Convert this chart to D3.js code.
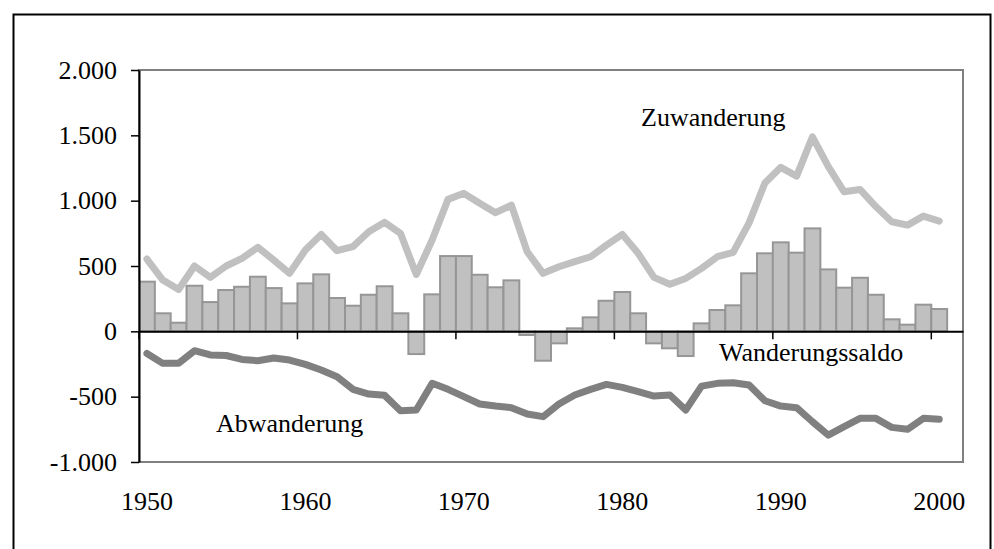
<!DOCTYPE html>
<html>
<head>
<meta charset="utf-8">
<script src="https://cdn.jsdelivr.net/npm/d3@7/dist/d3.min.js"></script>
<style>
  body { margin: 0; background: #fff; }
  text { font-family: "Liberation Serif", "Times New Roman", serif; fill: #000; }
</style>
</head>
<body>
<svg id="chart"></svg>
<script>
"use strict";

var width = 994
  , height = 549
  , plotLeft = 139
  , plotRight = 963
  , plotTop = 70
  , plotBottom = 462
  , serif = "'Liberation Serif', 'Times New Roman', serif";

// years, one band each (2001 stays empty like in the original)
var years = d3.range(1950, 2002);
var tickYears = [1950, 1960, 1970, 1980, 1990, 2000];
var yTicks = [-1000, -500, 0, 500, 1000, 1500, 2000];

// Wanderungssaldo (bars), 1950-2000
var saldo = [380, 138, 66, 349, 224, 316, 341, 418, 331, 214,
  367, 436, 255, 196, 280, 345, 138, -174, 283, 576,
  576, 433, 337, 390, -28, -225, -92, 23, 107, 234,
  301, 138, -92, -130, -189, 61, 163, 199, 444, 597,
  681, 602, 788, 474, 334, 410, 280, 92, 51, 204,
  171];

// Zuwanderung, 1950-2000
var zuwanderung = [553, 392, 320, 500, 413, 500, 558, 643, 546, 444,
  622, 742, 617, 648, 762, 834, 750, 435, 699, 1010,
  1056, 980, 908, 966, 609, 444, 494, 533, 571, 660,
  742, 597, 413, 360, 405, 482, 571, 605, 830, 1135,
  1255, 1188, 1489, 1260, 1068, 1086, 955, 839, 813, 882,
  844];

// Abwanderung, 1950-2000
var abwanderung = [-169, -245, -245, -148, -181, -185, -215, -225, -204, -220,
  -253, -296, -347, -444, -480, -490, -607, -602, -398, -444,
  -500, -556, -572, -584, -633, -653, -556, -487, -444, -406,
  -429, -462, -495, -487, -602, -419, -398, -393, -411, -531,
  -572, -584, -692, -794, -730, -666, -666, -735, -750, -666,
  -673];

var svg = d3.select("#chart")
  .attr("width", width)
  .attr("height", height);

var x = d3.scaleBand().domain(years).range([plotLeft, plotRight]).padding(0);
var y = d3.scaleLinear().domain([-1000, 2000]).range([plotBottom, plotTop]);
var bw = x.bandwidth();

var de = d3.formatLocale({decimal: ",", thousands: ".", grouping: [3], currency: ["", " €"], minus: "-"});

// outer frame
svg.append("rect")
  .attr("x", 13.5)
  .attr("y", 14.5)
  .attr("width", 977)
  .attr("height", 580)
  .attr("fill", "none")
  .attr("stroke", "#000")
  .attr("stroke-width", 2);

// plot area border
svg.append("rect")
  .attr("x", plotLeft)
  .attr("y", plotTop)
  .attr("width", plotRight - plotLeft)
  .attr("height", plotBottom - plotTop)
  .attr("fill", "none")
  .attr("stroke", "#808080")
  .attr("stroke-width", 2);

// bars
svg.append("g")
  .selectAll("rect")
  .data(saldo)
  .enter()
  .append("rect")
  .attr("x", function (d, i) { return x(years[i]); })
  .attr("y", function (d) { return y(Math.max(0, d)); })
  .attr("width", bw)
  .attr("height", function (d) { return Math.abs(y(d) - y(0)); })
  .attr("fill", "#c0c0c0")
  .attr("stroke", "#969696")
  .attr("stroke-width", 2);

// y axis
var yAxis = svg.append("g")
  .attr("transform", "translate(" + plotLeft + ",0)")
  .call(d3.axisLeft(y).tickValues(yTicks).tickSizeInner(8).tickSizeOuter(0).tickPadding(14)
    .tickFormat(de.format(",d")))
  .attr("font-family", serif)
  .attr("font-size", 26);
yAxis.select(".domain").attr("stroke", "#000").attr("stroke-width", 2);
yAxis.selectAll(".tick line").attr("stroke", "#000").attr("stroke-width", 1.5);
yAxis.selectAll("text")
  .style("font-family", serif)
  .style("font-size", "26px")
  .attr("fill", "#000");

// x axis on the zero line, ticks between categories
var xAxis = svg.append("g")
  .attr("transform", "translate(0," + y(0) + ")")
  .call(d3.axisBottom(x).tickValues(tickYears).tickSizeInner(8).tickSizeOuter(0))
  .attr("font-family", serif)
  .attr("font-size", 26);
xAxis.select(".domain").attr("stroke", "#000").attr("stroke-width", 2);
xAxis.selectAll(".tick line")
  .attr("stroke", "#000")
  .attr("stroke-width", 1.5)
  .attr("transform", "translate(" + (-bw / 2) + ",0)");
xAxis.selectAll(".tick text")
  .attr("y", plotBottom - y(0) + 30)
  .attr("dy", "0.71em")
  .style("font-family", serif)
  .style("font-size", "26px")
  .attr("fill", "#000");

// lines
var line = d3.line()
  .x(function (d, i) { return x(years[i]) + bw / 2; })
  .y(function (d) { return y(d); });

svg.append("path")
  .datum(zuwanderung)
  .attr("d", line)
  .attr("fill", "none")
  .attr("stroke", "#c0c0c0")
  .attr("stroke-width", 7)
  .attr("stroke-linejoin", "round")
  .attr("stroke-linecap", "round");

svg.append("path")
  .datum(abwanderung)
  .attr("d", line)
  .attr("fill", "none")
  .attr("stroke", "#808080")
  .attr("stroke-width", 7)
  .attr("stroke-linejoin", "round")
  .attr("stroke-linecap", "round");

// series labels
svg.append("text").attr("x", 641).attr("y", 126).style("font-size", "26px").text("Zuwanderung");
svg.append("text").attr("x", 719).attr("y", 361).style("font-size", "26px").text("Wanderungssaldo");
svg.append("text").attr("x", 216).attr("y", 432).style("font-size", "26px").text("Abwanderung");
</script>
</body>
</html>
